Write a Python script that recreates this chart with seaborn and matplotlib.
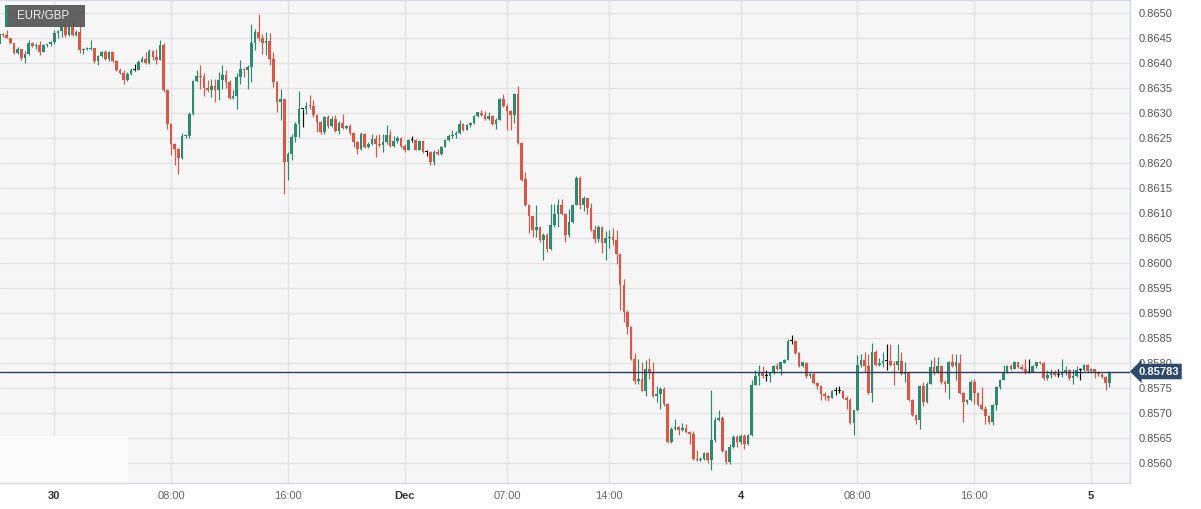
import numpy as np
import pandas as pd
import matplotlib
matplotlib.use('Agg')
import matplotlib.pyplot as plt
import matplotlib.transforms as mtransforms
from matplotlib.patches import Rectangle
import seaborn as sns

# EUR/GBP 15-minute candles (open of each candle = previous close)
first_open = 0.86439
close = [
    0.86459, 0.86456, 0.86451, 0.86441, 0.86421, 0.86429, 0.86411, 0.86419, 0.86441, 0.86434,
    0.86436, 0.86423, 0.86437, 0.86438, 0.86442, 0.86461, 0.86464, 0.86474, 0.86456, 0.86473,
    0.86457, 0.86462, 0.86426, 0.86428, 0.86429, 0.86430, 0.86404, 0.86414, 0.86423, 0.86409,
    0.86423, 0.86404, 0.86387, 0.86381, 0.86366, 0.86379, 0.86387, 0.86387, 0.86403, 0.86409,
    0.86401, 0.86425, 0.86413, 0.86406, 0.86437, 0.86347, 0.86278, 0.86238, 0.86229, 0.86211,
    0.86254, 0.86255, 0.86299, 0.86365, 0.86374, 0.86373, 0.86351, 0.86347, 0.86354, 0.86346,
    0.86366, 0.86376, 0.86363, 0.86331, 0.86334, 0.86373, 0.86389, 0.86386, 0.86393, 0.86441,
    0.86463, 0.86451, 0.86441, 0.86444, 0.86409, 0.86363, 0.86323, 0.86329, 0.86203, 0.86219,
    0.86253, 0.86279, 0.86308, 0.86308, 0.86315, 0.86314, 0.86296, 0.86283, 0.86263, 0.86293,
    0.86274, 0.86289, 0.86265, 0.86281, 0.86271, 0.86274, 0.86261, 0.86243, 0.86229, 0.86259,
    0.86233, 0.86239, 0.86249, 0.86238, 0.86236, 0.86243, 0.86257, 0.86234, 0.86244, 0.86251,
    0.86234, 0.86226, 0.86247, 0.86247, 0.86227, 0.86244, 0.86223, 0.86223, 0.86203, 0.86223,
    0.86218, 0.86233, 0.86247, 0.86254, 0.86256, 0.86261, 0.86279, 0.86267, 0.86276, 0.86281,
    0.86294, 0.86301, 0.86297, 0.86289, 0.86295, 0.86278, 0.86287, 0.86329, 0.86314, 0.86305,
    0.86296, 0.86339, 0.86241, 0.86167, 0.86116, 0.86094, 0.86067, 0.86073, 0.86046, 0.86056,
    0.86029, 0.86076, 0.86099, 0.86116, 0.86098, 0.86057, 0.86083, 0.86117, 0.86171, 0.86117,
    0.86131, 0.86111, 0.86066, 0.86049, 0.86073, 0.86041, 0.86051, 0.86053, 0.86046, 0.86018,
    0.85956, 0.85903, 0.85873, 0.85809, 0.85765, 0.85769, 0.85745, 0.85789, 0.85783, 0.85734,
    0.85738, 0.85749, 0.85719, 0.85643, 0.85669, 0.85673, 0.85666, 0.85671, 0.85663, 0.85659,
    0.85609, 0.85607, 0.85609, 0.85621, 0.85607, 0.85647, 0.85687, 0.85691, 0.85625, 0.85603,
    0.85633, 0.85653, 0.85643, 0.85654, 0.85638, 0.85656, 0.85757, 0.85775, 0.85781, 0.85774,
    0.85774, 0.85781, 0.85794, 0.85789, 0.85801, 0.85807, 0.85845, 0.85845, 0.85821, 0.85794,
    0.85801, 0.85774, 0.85779, 0.85761, 0.85754, 0.85739, 0.85734, 0.85731, 0.85745, 0.85745,
    0.85745, 0.85731, 0.85726, 0.85681, 0.85706, 0.85796, 0.85806, 0.85794, 0.85741, 0.85823,
    0.85796, 0.85801, 0.85804, 0.85804, 0.85797, 0.85796, 0.85804, 0.85778, 0.85781, 0.85727,
    0.85696, 0.85687, 0.85754, 0.85723, 0.85758, 0.85792, 0.85783, 0.85795, 0.85763, 0.85759,
    0.85803, 0.85794, 0.85801, 0.85741, 0.85723, 0.85727, 0.85763, 0.85741, 0.85716, 0.85709,
    0.85694, 0.85683, 0.85716, 0.85753, 0.85767, 0.85783, 0.85794, 0.85789, 0.85803, 0.85793,
    0.85789, 0.85783, 0.85783, 0.85794, 0.85801, 0.85800, 0.85771, 0.85776, 0.85783, 0.85776,
    0.85776, 0.85783, 0.85787, 0.85771, 0.85774, 0.85786, 0.85786, 0.85796, 0.85785, 0.85788,
    0.85783, 0.85779, 0.85773, 0.85761, 0.85783,
]
high = [
    0.86463, 0.86460, 0.86467, 0.86451, 0.86441, 0.86432, 0.86428, 0.86425, 0.86446, 0.86443,
    0.86441, 0.86444, 0.86439, 0.86439, 0.86445, 0.86466, 0.86467, 0.86478, 0.86486, 0.86487,
    0.86486, 0.86467, 0.86476, 0.86431, 0.86432, 0.86446, 0.86431, 0.86416, 0.86425, 0.86426,
    0.86425, 0.86425, 0.86406, 0.86390, 0.86387, 0.86382, 0.86390, 0.86399, 0.86406, 0.86414,
    0.86423, 0.86429, 0.86427, 0.86429, 0.86446, 0.86441, 0.86349, 0.86280, 0.86240, 0.86231,
    0.86261, 0.86259, 0.86303, 0.86367, 0.86386, 0.86397, 0.86381, 0.86366, 0.86369, 0.86369,
    0.86383, 0.86396, 0.86387, 0.86366, 0.86347, 0.86381, 0.86406, 0.86391, 0.86396, 0.86479,
    0.86469, 0.86498, 0.86459, 0.86463, 0.86461, 0.86423, 0.86365, 0.86349, 0.86329, 0.86223,
    0.86259, 0.86283, 0.86345, 0.86309, 0.86323, 0.86336, 0.86327, 0.86299, 0.86285, 0.86295,
    0.86296, 0.86294, 0.86296, 0.86284, 0.86298, 0.86276, 0.86278, 0.86263, 0.86245, 0.86263,
    0.86261, 0.86243, 0.86259, 0.86256, 0.86258, 0.86259, 0.86276, 0.86267, 0.86254, 0.86254,
    0.86253, 0.86238, 0.86249, 0.86254, 0.86249, 0.86246, 0.86247, 0.86227, 0.86224, 0.86226,
    0.86229, 0.86234, 0.86249, 0.86258, 0.86267, 0.86264, 0.86286, 0.86281, 0.86279, 0.86283,
    0.86296, 0.86303, 0.86306, 0.86304, 0.86303, 0.86296, 0.86290, 0.86331, 0.86339, 0.86319,
    0.86307, 0.86341, 0.86354, 0.86243, 0.86183, 0.86119, 0.86093, 0.86116, 0.86073, 0.86060,
    0.86060, 0.86119, 0.86119, 0.86129, 0.86129, 0.86100, 0.86109, 0.86119, 0.86174, 0.86174,
    0.86134, 0.86131, 0.86121, 0.86076, 0.86076, 0.86074, 0.86065, 0.86066, 0.86071, 0.86067,
    0.86021, 0.85969, 0.85906, 0.85875, 0.85821, 0.85809, 0.85803, 0.85806, 0.85811, 0.85803,
    0.85754, 0.85753, 0.85752, 0.85721, 0.85673, 0.85689, 0.85675, 0.85681, 0.85678, 0.85665,
    0.85665, 0.85626, 0.85613, 0.85623, 0.85623, 0.85746, 0.85693, 0.85706, 0.85694, 0.85627,
    0.85639, 0.85656, 0.85656, 0.85659, 0.85658, 0.85659, 0.85767, 0.85787, 0.85797, 0.85794,
    0.85786, 0.85783, 0.85796, 0.85801, 0.85803, 0.85809, 0.85849, 0.85856, 0.85846, 0.85823,
    0.85803, 0.85803, 0.85781, 0.85783, 0.85763, 0.85756, 0.85743, 0.85736, 0.85746, 0.85753,
    0.85755, 0.85746, 0.85734, 0.85731, 0.85707, 0.85816, 0.85818, 0.85823, 0.85819, 0.85841,
    0.85826, 0.85811, 0.85823, 0.85838, 0.85838, 0.85805, 0.85838, 0.85823, 0.85803, 0.85779,
    0.85728, 0.85697, 0.85756, 0.85763, 0.85763, 0.85807, 0.85813, 0.85813, 0.85789, 0.85766,
    0.85805, 0.85818, 0.85818, 0.85819, 0.85743, 0.85729, 0.85767, 0.85769, 0.85743, 0.85753,
    0.85714, 0.85696, 0.85718, 0.85754, 0.85769, 0.85796, 0.85797, 0.85798, 0.85805, 0.85803,
    0.85798, 0.85809, 0.85809, 0.85796, 0.85803, 0.85804, 0.85803, 0.85786, 0.85789, 0.85787,
    0.85789, 0.85809, 0.85794, 0.85789, 0.85789, 0.85794, 0.85791, 0.85799, 0.85798, 0.85790,
    0.85789, 0.85785, 0.85781, 0.85774, 0.85784,
]
low = [
    0.86436, 0.86453, 0.86450, 0.86439, 0.86419, 0.86419, 0.86406, 0.86401, 0.86416, 0.86433,
    0.86429, 0.86416, 0.86423, 0.86433, 0.86434, 0.86439, 0.86451, 0.86453, 0.86453, 0.86455,
    0.86455, 0.86455, 0.86421, 0.86419, 0.86426, 0.86426, 0.86401, 0.86396, 0.86413, 0.86407,
    0.86405, 0.86402, 0.86385, 0.86378, 0.86359, 0.86364, 0.86376, 0.86385, 0.86386, 0.86404,
    0.86399, 0.86398, 0.86406, 0.86399, 0.86406, 0.86343, 0.86269, 0.86216, 0.86197, 0.86179,
    0.86209, 0.86251, 0.86251, 0.86297, 0.86362, 0.86349, 0.86334, 0.86343, 0.86333, 0.86323,
    0.86326, 0.86349, 0.86351, 0.86329, 0.86329, 0.86309, 0.86359, 0.86373, 0.86349, 0.86363,
    0.86426, 0.86445, 0.86418, 0.86416, 0.86396, 0.86353, 0.86303, 0.86286, 0.86139, 0.86166,
    0.86206, 0.86243, 0.86253, 0.86273, 0.86299, 0.86309, 0.86293, 0.86263, 0.86259, 0.86259,
    0.86271, 0.86273, 0.86263, 0.86259, 0.86269, 0.86269, 0.86256, 0.86233, 0.86219, 0.86226,
    0.86231, 0.86231, 0.86236, 0.86213, 0.86233, 0.86223, 0.86238, 0.86233, 0.86232, 0.86241,
    0.86231, 0.86223, 0.86226, 0.86243, 0.86226, 0.86226, 0.86221, 0.86214, 0.86196, 0.86197,
    0.86216, 0.86216, 0.86232, 0.86245, 0.86251, 0.86251, 0.86258, 0.86265, 0.86266, 0.86273,
    0.86278, 0.86292, 0.86294, 0.86287, 0.86286, 0.86276, 0.86269, 0.86287, 0.86312, 0.86267,
    0.86267, 0.86281, 0.86239, 0.86165, 0.86114, 0.86061, 0.86053, 0.86053, 0.86043, 0.86006,
    0.86023, 0.86026, 0.86073, 0.86073, 0.86096, 0.86043, 0.86053, 0.86080, 0.86116, 0.86109,
    0.86105, 0.86098, 0.86065, 0.86041, 0.86043, 0.86021, 0.86007, 0.86031, 0.86036, 0.85999,
    0.85906, 0.85883, 0.85859, 0.85807, 0.85759, 0.85759, 0.85744, 0.85734, 0.85769, 0.85733,
    0.85723, 0.85709, 0.85714, 0.85641, 0.85641, 0.85667, 0.85656, 0.85665, 0.85661, 0.85639,
    0.85607, 0.85605, 0.85605, 0.85607, 0.85601, 0.85586, 0.85643, 0.85685, 0.85623, 0.85599,
    0.85599, 0.85631, 0.85633, 0.85639, 0.85629, 0.85636, 0.85654, 0.85759, 0.85756, 0.85771,
    0.85764, 0.85763, 0.85779, 0.85787, 0.85776, 0.85800, 0.85806, 0.85839, 0.85819, 0.85793,
    0.85792, 0.85771, 0.85771, 0.85758, 0.85749, 0.85727, 0.85726, 0.85725, 0.85730, 0.85736,
    0.85741, 0.85729, 0.85709, 0.85679, 0.85656, 0.85705, 0.85793, 0.85783, 0.85739, 0.85723,
    0.85794, 0.85794, 0.85793, 0.85787, 0.85794, 0.85756, 0.85786, 0.85776, 0.85763, 0.85725,
    0.85694, 0.85678, 0.85669, 0.85714, 0.85721, 0.85758, 0.85776, 0.85780, 0.85759, 0.85743,
    0.85729, 0.85793, 0.85767, 0.85739, 0.85683, 0.85718, 0.85725, 0.85719, 0.85714, 0.85707,
    0.85679, 0.85679, 0.85676, 0.85707, 0.85749, 0.85767, 0.85781, 0.85787, 0.85789, 0.85791,
    0.85787, 0.85779, 0.85781, 0.85783, 0.85791, 0.85798, 0.85767, 0.85767, 0.85771, 0.85774,
    0.85773, 0.85773, 0.85776, 0.85767, 0.85759, 0.85772, 0.85767, 0.85785, 0.85783, 0.85780,
    0.85771, 0.85774, 0.85771, 0.85747, 0.85753,
]

tick_pos = [15, 47, 79, 111, 139, 167, 203, 235, 267, 299]
tick_labels = ['30', '08:00', '16:00', 'Dec', '07:00', '14:00', '4', '08:00', '16:00', '5']
day_labels = ['30', 'Dec', '4', '5']
y_ticks = [0.8560, 0.8565, 0.8570, 0.8575, 0.8580, 0.8585, 0.8590, 0.8595, 0.8600,
           0.8605, 0.8610, 0.8615, 0.8620, 0.8625, 0.8630, 0.8635, 0.8640, 0.8645, 0.8650]
last_price = 0.85783
pair = 'EUR/GBP'

GREEN = '#2e8a6f'
RED = '#da5747'

df = pd.DataFrame({'close': close, 'high': high, 'low': low})
df['open'] = df['close'].shift(1).fillna(first_open)
df['high'] = df[['high', 'open', 'close']].max(axis=1)
df['low'] = df[['low', 'open', 'close']].min(axis=1)
df['idx'] = np.arange(len(df))
df['color'] = np.where(df['close'] > df['open'], GREEN,
                       np.where(df['close'] < df['open'], RED, '#111111'))

sns.set_theme(style='whitegrid')
plt.rcParams['font.family'] = ['Liberation Sans', 'DejaVu Sans']

fig = plt.figure(figsize=(12.01, 5.09), dpi=100)
ax = fig.add_axes([0, 26 / 509, 1130 / 1201, 483 / 509])
ax.set_facecolor('#f6f6f6')

# wicks then bodies
ax.vlines(df['idx'], df['low'], df['high'], colors=df['color'], linewidth=0.85, zorder=3)
body = np.maximum((df['close'] - df['open']).abs(), 0.000012)
ax.bar(df['idx'], body, bottom=df[['open', 'close']].min(axis=1), width=0.72,
       color=df['color'], linewidth=0, zorder=4)

ax.set_xlim(0.14, 309.64)
ax.set_ylim(0.85560, 0.86526)

ax.set_xticks(tick_pos)
ax.set_xticklabels(tick_labels)
ax.set_yticks(y_ticks)
ax.set_yticklabels([f'{v:.4f}' for v in y_ticks])
ax.yaxis.tick_right()
ax.tick_params(axis='y', length=0, pad=6, labelsize=8, labelcolor='#555555')
ax.tick_params(axis='x', length=0, pad=6, labelsize=8, labelcolor='#666666')
for lab in ax.get_xticklabels():
    if lab.get_text() in day_labels:
        lab.set_fontweight('bold')
        lab.set_color('#333333')

ax.grid(True, color='#e2e2e2', linewidth=1)
ax.set_axisbelow(True)
for s in ax.spines.values():
    s.set_color('#d4d8e8')
    s.set_linewidth(1)
ax.spines['left'].set_visible(False)

# light patch at bottom-left corner
ax.add_patch(Rectangle((0, 0), 128 / 1130, 47 / 483, transform=ax.transAxes,
                       facecolor='#fbfbfb', edgecolor='none', zorder=2))

# last price line and tag
ax.axhline(last_price, color='#2b3d5c', linewidth=1, zorder=5)
trans = mtransforms.blended_transform_factory(ax.transAxes, ax.transData)
ax.text(1.0075, last_price, f'{last_price:.5f}', transform=trans, ha='left', va='center',
        fontsize=8, fontweight='bold', color='white', zorder=6, clip_on=False,
        bbox=dict(boxstyle='larrow,pad=0.25', facecolor='#2c4a6f', edgecolor='none'))

# pair label top-left
ax.add_patch(Rectangle((5 / 1130, 1 - 27 / 483), 80 / 1130, 22 / 483, transform=ax.transAxes,
                       facecolor='#555555', alpha=0.92, edgecolor='none', zorder=7))
ax.add_patch(Rectangle((5 / 1130, 1 - 27 / 483), 3 / 1130, 22 / 483, transform=ax.transAxes,
                       facecolor=GREEN, edgecolor='none', zorder=8))
ax.text(17 / 1130, 1 - 16 / 483, pair, transform=ax.transAxes, ha='left', va='center',
        fontsize=8.3, color='#f0f0f0', zorder=9)

fig.savefig('out.png', dpi=100, facecolor='white')
